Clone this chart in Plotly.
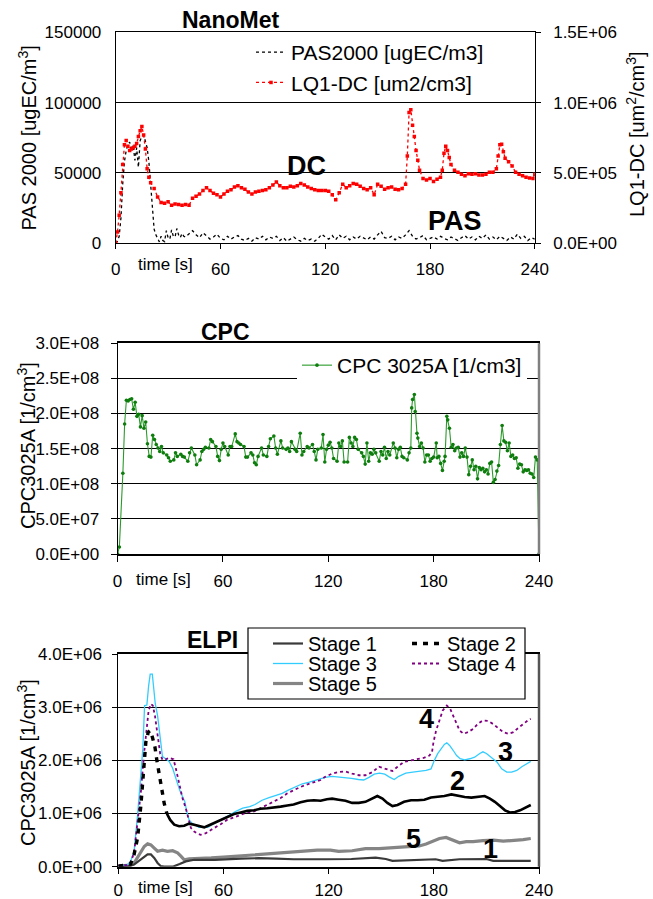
import plotly.graph_objects as go

W, H = 653, 899
FONT = "Liberation Sans, Arial, sans-serif"

# ---------------- data ----------------
time_ticks = [0, 60, 120, 180, 240]
time_tick_text = ["0", "60", "120", "180", "240"]
pas_ticks = [0, 50000, 100000, 150000]
pas_tick_text = ["0", "50000", "100000", "150000"]
dc_ticks = [0, 5e5, 1e6, 1.5e6]
dc_tick_text = ["0.0E+00", "5.0E+05", "1.0E+06", "1.5E+06"]
cpc_ticks = [0, 5e7, 1e8, 1.5e8, 2e8, 2.5e8, 3e8]
cpc_tick_text = ["0.0E+00", "5.0E+07", "1.0E+08", "1.5E+08", "2.0E+08", "2.5E+08", "3.0E+08"]
elpi_ticks = [0, 1e6, 2e6, 3e6, 4e6]
elpi_tick_text = ["0.0E+00", "1.0E+06", "2.0E+06", "3.0E+06", "4.0E+06"]

# PAS2000 [ugEC/m3] (time s, value)
pas_points = [
    (0, 0), (1, 1500), (2, 5000), (3, 18000), (4, 42000), (5, 58000), (6, 66000), (7, 70000),
    (8, 72000), (9, 66000), (10, 70000), (11, 59000), (12, 68000), (13, 54000), (14, 73000),
    (15, 76000), (16, 77000), (17, 72000), (18, 68000), (19, 58000), (20, 42000), (21, 25000),
    (22, 10000), (23, 6000), (24, 3000), (25, 1000), (26, 5000), (27, 2000), (28, 1200), (29, 9000),
    (30, 4000), (31, 3000), (32, 9500), (33, 5000), (34, 4500), (35, 10500), (36, 6000), (37, 4000),
    (38, 7000), (39, 5000), (40, 4500),
    (42, 7000), (44, 9000), (46, 6000), (48, 4000), (50, 7500), (52, 5000), (54, 3000), (56, 4500),
    (58, 6500), (60, 3500), (62, 2500), (64, 5000), (66, 3000), (68, 4500), (70, 5500), (72, 3000),
    (74, 2000), (76, 3500), (78, 1500), (80, 4000), (82, 3000), (84, 5000), (86, 2500), (88, 4500),
    (90, 3500), (92, 5000), (94, 2000), (96, 4000), (98, 1500), (100, 3000), (102, 4500), (104, 2500),
    (106, 1500), (108, 3500), (110, 2000), (112, 3000), (114, 1500), (116, 3500), (118, 6500),
    (120, 4500), (122, 3000), (124, 5500), (126, 2500), (128, 6000), (130, 3500), (132, 5000),
    (134, 2500), (136, 4500), (138, 3000), (140, 5000), (142, 3500), (144, 2500), (146, 4500),
    (148, 3000), (150, 6000), (152, 8500), (154, 4000), (156, 3500), (158, 5000), (160, 2500),
    (162, 4500), (164, 3500), (166, 6000), (168, 9000), (170, 5000), (172, 3000), (174, 4000),
    (176, 5500), (178, 2500), (180, 3500), (182, 4500), (184, 3000), (186, 5000), (188, 3500),
    (190, 2500), (192, 4500), (194, 3500), (196, 2000), (198, 4000), (200, 5500), (202, 3000),
    (204, 4500), (206, 2500), (208, 5000), (210, 3500), (212, 6000), (214, 3000), (216, 4500),
    (218, 2500), (220, 5000), (222, 3500), (224, 2000), (226, 4500), (228, 3000), (230, 6500),
    (232, 3500), (234, 5000), (236, 2000), (238, 4000), (240, 3000),
]

# LQ1-DC [um2/cm3] (time s, value)
dc_points = [
    (0, 0), (1, 80000), (2, 200000), (3, 360000), (4, 560000), (5, 700000), (6, 730000),
    (7, 690000), (8, 660000), (9, 670000), (10, 680000), (11, 690000), (12, 710000), (13, 760000),
    (14, 800000), (15, 830000), (16, 770000), (17, 670000), (18, 530000), (19, 470000), (20, 430000),
    (22, 390000), (24, 330000), (26, 290000), (28, 285000), (30, 295000), (32, 270000), (34, 280000),
    (36, 275000), (38, 270000), (40, 275000), (42, 270000), (44, 320000), (46, 335000), (48, 350000),
    (50, 375000), (52, 395000), (54, 375000), (56, 355000), (58, 345000), (60, 330000), (62, 350000),
    (64, 370000), (66, 380000), (68, 400000), (70, 410000), (72, 395000), (74, 385000), (76, 365000),
    (78, 350000), (80, 365000), (82, 370000), (84, 375000), (86, 380000), (88, 395000), (90, 415000),
    (92, 435000), (94, 410000), (96, 395000), (98, 395000), (100, 405000), (102, 400000),
    (104, 410000), (106, 425000), (108, 415000), (110, 400000), (112, 390000), (114, 380000),
    (116, 375000), (118, 375000), (120, 375000), (122, 370000), (124, 345000), (126, 310000),
    (128, 360000), (130, 420000), (132, 395000), (134, 410000), (136, 425000), (138, 420000),
    (140, 405000), (142, 390000), (144, 380000), (146, 395000), (148, 345000), (150, 420000),
    (152, 405000), (154, 385000), (156, 395000), (158, 400000), (160, 385000), (162, 380000),
    (164, 390000), (166, 420000), (167, 620000), (168, 930000), (169, 950000), (170, 840000),
    (171, 760000), (172, 660000), (173, 590000), (174, 520000), (176, 460000), (178, 450000),
    (180, 460000), (182, 440000), (184, 455000), (186, 470000), (187, 520000), (188, 640000),
    (189, 690000), (190, 660000), (191, 610000), (192, 560000), (194, 520000), (196, 505000),
    (198, 490000), (200, 480000), (202, 495000), (204, 490000), (206, 495000), (208, 485000),
    (210, 485000), (212, 490000), (214, 505000), (216, 505000), (218, 530000), (219, 620000),
    (220, 700000), (221, 705000), (222, 650000), (223, 605000), (225, 580000), (227, 550000),
    (229, 505000), (231, 490000), (233, 480000), (235, 470000), (237, 465000), (239, 460000),
    (240, 490000),
]

# CPC 3025A [1/cm3] (time s, value)
cpc_points = [
    (0, 0), (1, 1.0e7), (3, 1.15e8), (4, 1.85e8), (5, 2.19e8), (6, 2.18e8), (7, 2.20e8), (8, 2.21e8),
    (9, 2.06e8), (10, 2.16e8), (11, 1.96e8), (12, 1.99e8), (13, 1.81e8), (14, 1.97e8), (15, 1.79e8),
    (16, 1.88e8), (17, 1.57e8), (18, 1.39e8), (19, 1.38e8), (20, 1.69e8), (21, 1.63e8), (22, 1.56e8),
    (23, 1.51e8), (24, 1.46e8), (25, 1.53e8), (26, 1.44e8), (28, 1.41e8), (29, 1.37e8), (30, 1.32e8),
    (32, 1.34e8), (33, 1.44e8), (34, 1.39e8), (36, 1.42e8), (37, 1.39e8), (38, 1.38e8), (40, 1.32e8),
    (41, 1.44e8), (42, 1.51e8), (44, 1.41e8), (45, 1.27e8), (47, 1.34e8), (48, 1.46e8), (49, 1.49e8),
    (50, 1.52e8), (52, 1.51e8), (53, 1.63e8), (54, 1.60e8), (56, 1.53e8), (57, 1.39e8), (58, 1.33e8),
    (59, 1.49e8), (60, 1.58e8), (61, 1.53e8), (63, 1.41e8), (64, 1.53e8), (65, 1.53e8), (67, 1.71e8),
    (68, 1.60e8), (69, 1.58e8), (70, 1.56e8), (72, 1.53e8), (73, 1.38e8), (74, 1.38e8), (76, 1.44e8),
    (77, 1.41e8), (78, 1.30e8), (79, 1.27e8), (80, 1.39e8), (82, 1.51e8), (83, 1.41e8), (85, 1.39e8),
    (86, 1.53e8), (87, 1.64e8), (89, 1.68e8), (90, 1.51e8), (91, 1.42e8), (93, 1.61e8), (94, 1.51e8),
    (96, 1.49e8), (97, 1.51e8), (98, 1.46e8), (99, 1.60e8), (101, 1.49e8), (102, 1.46e8),
    (104, 1.72e8), (105, 1.41e8), (106, 1.46e8), (108, 1.53e8), (109, 1.51e8), (111, 1.56e8),
    (112, 1.46e8), (113, 1.34e8), (114, 1.49e8), (116, 1.51e8), (117, 1.70e8), (118, 1.31e8),
    (119, 1.49e8), (120, 1.55e8), (121, 1.59e8), (122, 1.51e8), (123, 1.36e8), (125, 1.32e8),
    (126, 1.58e8), (127, 1.53e8), (128, 1.61e8), (129, 1.31e8), (131, 1.31e8), (132, 1.66e8),
    (133, 1.58e8), (134, 1.53e8), (135, 1.66e8), (136, 1.63e8), (137, 1.49e8), (139, 1.44e8),
    (140, 1.39e8), (141, 1.28e8), (142, 1.58e8), (143, 1.32e8), (144, 1.44e8), (145, 1.42e8),
    (146, 1.49e8), (147, 1.44e8), (149, 1.32e8), (150, 1.46e8), (151, 1.41e8), (152, 1.52e8),
    (153, 1.36e8), (154, 1.46e8), (155, 1.41e8), (157, 1.58e8), (158, 1.51e8), (159, 1.37e8),
    (160, 1.49e8), (161, 1.52e8), (162, 1.39e8), (163, 1.37e8), (165, 1.34e8), (166, 1.44e8),
    (167, 1.51e8), (167.5, 2.08e8), (168, 2.20e8), (169, 2.27e8), (169.5, 2.03e8), (170.5, 1.72e8),
    (171, 1.65e8), (172, 1.53e8), (173, 1.58e8), (174, 1.51e8), (175, 1.31e8), (176, 1.41e8),
    (177, 1.41e8), (178, 1.32e8), (179, 1.36e8), (180, 1.38e8), (181.5, 1.58e8), (182, 1.37e8),
    (183, 1.39e8), (184, 1.29e8), (185, 1.19e8), (186, 1.32e8), (186.5, 1.39e8), (187.5, 1.96e8),
    (188, 1.91e8), (189, 1.79e8), (190, 1.52e8), (191, 1.56e8), (192, 1.47e8), (193, 1.51e8),
    (194, 1.52e8), (195, 1.38e8), (196, 1.44e8), (197, 1.39e8), (198, 1.51e8), (199, 1.38e8),
    (200, 1.13e8), (201, 1.25e8), (202, 1.34e8), (203, 1.20e8), (204, 1.25e8), (205, 1.07e8),
    (206, 1.23e8), (207, 1.20e8), (208, 1.22e8), (209, 1.17e8), (210, 1.20e8), (211, 1.14e8),
    (212, 1.29e8), (213, 1.31e8), (214, 1.02e8), (215, 1.06e8), (216, 1.18e8), (217, 1.26e8),
    (218, 1.56e8), (219, 1.83e8), (220, 1.61e8), (221, 1.59e8), (222, 1.47e8), (223, 1.58e8),
    (224, 1.39e8), (225, 1.41e8), (226, 1.36e8), (227, 1.37e8), (228, 1.22e8), (229, 1.28e8),
    (230, 1.27e8), (231, 1.17e8), (232, 1.20e8), (233, 1.19e8), (234, 1.20e8), (235, 1.15e8),
    (236, 1.14e8), (237, 1.09e8), (238, 1.38e8), (239, 1.34e8), (240, 0),
]

# ELPI stages [1/cm3] (time s, value)
stage1_points = [
    (0, 1e4), (7, 2e4), (9, 4e4), (12.9, 1.3e5), (16.7, 2.3e5), (18.6, 2.3e5), (20.5, 1.65e5),
    (22.4, 7e4), (24.3, 1e4), (26, 0), (31, 0), (35, 5e4), (38.5, 1.0e5), (43.3, 1.3e5),
    (55, 1.3e5), (70, 1.5e5), (80, 1.6e5), (90, 1.5e5), (100, 1.4e5), (118, 1.4e5), (133, 1.45e5),
    (146.8, 1.7e5), (152.6, 1.45e5), (156.4, 1.1e5), (166, 1.25e5), (181, 1.4e5), (185, 1.1e5),
    (194.7, 1.4e5), (210, 1.45e5), (213.9, 1.1e5), (235.3, 1.1e5),
]
stage2_points = [
    (0, 1e4), (7, 5e4), (9, 2.3e5), (11, 5.4e5), (12.9, 1.16e6), (14.4, 1.91e6), (15.7, 2.34e6),
    (17.1, 2.53e6), (18.2, 2.56e6), (19.5, 2.43e6), (20.9, 2.25e6), (22, 2.0e6), (23.3, 1.72e6),
    (24.7, 1.44e6), (26.2, 1.19e6), (27.7, 1.0e6), (29.6, 8.8e5), (31.9, 7.9e5), (34.7, 7.6e5),
    (37.6, 7.7e5), (40.4, 8.1e5), (43.3, 7.9e5), (46, 7.6e5), (49, 7.4e5), (51.8, 7.8e5),
    (54.6, 8.2e5), (57.5, 8.6e5), (60.3, 9.1e5), (63.2, 9.4e5), (66, 9.9e5), (69.8, 1.02e6),
    (73.6, 1.05e6), (77.4, 1.06e6), (81, 1.09e6), (85, 1.10e6), (88.8, 1.11e6), (92.6, 1.13e6),
    (96.4, 1.15e6), (100, 1.17e6), (104, 1.21e6), (107.8, 1.24e6), (111.6, 1.25e6), (115.4, 1.24e6),
    (119, 1.27e6), (122, 1.28e6), (125.7, 1.26e6), (129.6, 1.24e6), (133.4, 1.20e6), (137.2, 1.20e6),
    (141, 1.22e6), (145, 1.28e6), (147.8, 1.33e6), (150.7, 1.28e6), (153.5, 1.20e6), (156.4, 1.14e6),
    (159.3, 1.16e6), (163, 1.22e6), (167, 1.25e6), (170.8, 1.25e6), (174.6, 1.26e6), (178.4, 1.30e6),
    (182.3, 1.31e6), (186, 1.33e6), (190, 1.36e6), (193.8, 1.33e6), (197.6, 1.31e6), (201.4, 1.30e6),
    (205.2, 1.31e6), (209, 1.33e6), (212, 1.28e6), (214.8, 1.22e6), (217.7, 1.14e6), (220.6, 1.06e6),
    (223.4, 1.02e6), (226.3, 1.03e6), (229.2, 1.06e6), (232, 1.11e6), (235.3, 1.16e6),
]
stage3_points = [
    (0, 2e4), (5, 3e4), (7, 1.0e5), (9, 2.9e5), (11, 9.7e5), (13, 1.72e6), (14, 2.22e6), (15, 3.03e6),
    (16.3, 3.04e6), (17.3, 3.40e6), (18.2, 3.62e6), (19.4, 3.62e6), (20.3, 3.34e6), (21.1, 3.06e6),
    (22.4, 2.84e6), (23.3, 2.56e6), (24.3, 2.28e6), (25.2, 2.07e6), (27, 2.03e6), (29, 1.98e6),
    (31, 1.85e6), (33, 1.63e6), (35, 1.44e6), (36.6, 1.32e6), (38, 1.22e6), (39, 1.04e6),
    (40.4, 8.8e5), (42, 8.2e5), (44, 7.8e5), (46, 7.4e5), (48, 7.4e5), (51, 7.4e5), (54, 8.0e5),
    (56.5, 8.5e5), (59.4, 9.0e5), (63, 9.6e5), (67, 1.04e6), (71, 1.10e6), (75, 1.13e6),
    (78, 1.17e6), (82, 1.25e6), (86, 1.30e6), (90, 1.34e6), (93.5, 1.38e6), (97, 1.44e6),
    (101, 1.50e6), (105, 1.56e6), (109, 1.59e6), (112.5, 1.63e6), (116, 1.66e6), (118, 1.68e6),
    (122, 1.70e6), (126, 1.69e6), (130, 1.68e6), (133, 1.66e6), (137, 1.64e6), (140, 1.63e6),
    (143, 1.68e6), (146, 1.74e6), (149, 1.76e6), (152, 1.74e6), (154.5, 1.69e6), (157.4, 1.64e6),
    (160, 1.70e6), (164, 1.76e6), (168, 1.78e6), (172, 1.79e6), (175.6, 1.81e6), (178.4, 1.84e6),
    (180.3, 2.00e6), (182.3, 2.13e6), (184.2, 2.22e6), (186, 2.30e6), (187.4, 2.33e6), (189, 2.28e6),
    (191, 2.19e6), (193, 2.09e6), (195, 2.03e6), (197.6, 2.01e6), (200.5, 2.03e6), (203.3, 2.06e6),
    (206.2, 2.13e6), (208, 2.16e6), (210, 2.13e6), (213, 2.05e6), (216, 1.97e6), (218.7, 1.84e6),
    (221.6, 1.78e6), (224.4, 1.78e6), (227.3, 1.81e6), (230.2, 1.88e6), (233, 1.94e6),
    (235.3, 1.98e6),
]
stage4_points = [
    (0, 2e4), (5, 3e4), (7, 8e4), (9, 2.6e5), (11, 8.5e5), (12.9, 1.41e6), (14.8, 2.16e6),
    (16.1, 2.62e6), (17.3, 2.94e6), (18.6, 3.06e6), (19.7, 3.03e6), (20.9, 2.84e6), (22.4, 2.43e6),
    (23.9, 2.12e6), (25.2, 2.01e6), (27, 2.02e6), (29, 2.05e6), (31.5, 2.02e6), (32.8, 1.85e6),
    (34.7, 1.54e6), (36.6, 1.29e6), (38.5, 1.10e6), (39.8, 9.1e5), (41.4, 7.3e5), (43.3, 6.6e5),
    (45.2, 6.2e5), (47, 6.0e5), (50, 6.3e5), (52.8, 6.9e5), (55.6, 7.4e5), (58.4, 8.0e5),
    (62, 8.8e5), (66, 9.3e5), (70, 9.7e5), (73.6, 1.02e6), (77.4, 1.04e6), (81, 1.10e6),
    (85, 1.16e6), (88.8, 1.22e6), (92.6, 1.29e6), (96.4, 1.38e6), (100, 1.44e6), (104, 1.50e6),
    (108, 1.55e6), (111.6, 1.59e6), (115.4, 1.63e6), (118, 1.69e6), (122, 1.75e6), (125.7, 1.78e6),
    (129.6, 1.79e6), (133.4, 1.75e6), (137.2, 1.72e6), (141, 1.72e6), (145, 1.78e6), (148.7, 1.88e6),
    (152.6, 1.84e6), (156.4, 1.80e6), (159.3, 1.88e6), (163, 1.97e6), (167, 2.00e6), (170.8, 2.03e6),
    (174.6, 2.05e6), (177.5, 2.09e6), (179, 2.16e6), (179.8, 2.34e6), (181.3, 2.56e6),
    (183.2, 2.75e6), (185.1, 2.94e6), (187.4, 3.03e6), (189.3, 2.97e6), (191, 2.84e6),
    (192.8, 2.69e6), (194.7, 2.56e6), (197, 2.50e6), (199.5, 2.53e6), (202.4, 2.59e6),
    (205.2, 2.69e6), (208, 2.75e6), (211, 2.74e6), (214, 2.68e6), (216.7, 2.61e6), (219.6, 2.53e6),
    (222.5, 2.50e6), (225.4, 2.53e6), (228.2, 2.61e6), (231, 2.69e6), (234, 2.76e6), (235.3, 2.78e6),
]
stage5_points = [
    (0, 1e4), (7, 3e4), (9, 7e4), (12, 2.3e5), (14.8, 3.8e5), (16.7, 4.3e5), (18.6, 4.1e5),
    (20.5, 3.5e5), (22.4, 2.9e5), (25.2, 3.1e5), (28, 2.9e5), (31, 3.0e5), (33.8, 2.6e5),
    (35.7, 2.0e5), (37.6, 1.3e5), (40.4, 1.5e5), (43.3, 1.5e5), (47, 1.65e5), (53, 1.65e5),
    (60, 1.8e5), (68, 2.0e5), (75.5, 2.1e5), (83, 2.3e5), (90.7, 2.6e5), (98.3, 2.7e5),
    (106, 2.9e5), (113.5, 3.1e5), (121, 3.1e5), (125.7, 2.9e5), (133.4, 3.0e5), (141, 3.4e5),
    (148.7, 3.4e5), (156.4, 3.6e5), (164, 3.75e5), (171.7, 3.9e5), (175.6, 4.25e5), (179.4, 4.7e5),
    (183.2, 5.3e5), (187, 5.5e5), (190.9, 5.0e5), (194.7, 4.5e5), (198.5, 4.7e5), (202.4, 4.7e5),
    (208, 4.9e5), (214, 5.0e5), (219.6, 4.8e5), (225.4, 4.9e5), (231, 5.1e5), (235.3, 5.3e5),
]

elpi_names = ["Stage 1", "Stage 2", "Stage 3", "Stage 4", "Stage 5"]


# ---------------- helpers ----------------
def px(x):
    return x / W


def py(y):
    return 1 - y / H


def xs(points):
    return [p[0] for p in points]


def ys(points):
    return [p[1] for p in points]


def merge(*dicts, **kw):
    out = {}
    for d in dicts:
        out.update(d)
    out.update(kw)
    return out


fig = go.Figure()

# NanoMet panel
fig.add_trace(go.Scatter(
    x=xs(pas_points), y=ys(pas_points), mode="lines", name="PAS2000 [ugEC/m3]",
    line=dict(color="black", width=1.3, dash="dot"),
    xaxis="x", yaxis="y", legend="legend", legendgroup="pas"))
fig.add_trace(go.Scatter(
    x=xs(dc_points), y=ys(dc_points), mode="lines+markers", name="LQ1-DC [um2/cm3]",
    line=dict(color="#ff0000", width=1.3, dash="dot"),
    marker=dict(color="#ff0000", size=3.5, symbol="square"),
    xaxis="x", yaxis="y2", legend="legend", legendgroup="dc"))

# CPC panel
fig.add_trace(go.Scatter(
    x=xs(cpc_points), y=ys(cpc_points), mode="lines+markers", name="CPC 3025A [1/cm3]",
    line=dict(color="#2a9a2a", width=1.1),
    marker=dict(color="#0e7d0e", size=3.6),
    xaxis="x2", yaxis="y3", legend="legend2"))

# ELPI panel
elpi_styles = {
    "Stage 1": dict(color="#3a3a3a", width=2.2),
    "Stage 2": dict(color="black", width=3.4, dash="5px,6px"),
    "Stage 3": dict(color="#33ccff", width=1.3),
    "Stage 4": dict(color="#800080", width=1.8, dash="dot"),
    "Stage 5": dict(color="#858585", width=3.2),
}
elpi_series = {
    "Stage 1": stage1_points, "Stage 2": stage2_points, "Stage 3": stage3_points,
    "Stage 4": stage4_points, "Stage 5": stage5_points,
}
# one single-entry legend per stage so the rows can sit as tightly as in the reference
elpi_legend = {"Stage 1": "legend3", "Stage 2": "legend4", "Stage 3": "legend5",
               "Stage 4": "legend6", "Stage 5": "legend7"}
STAGE2_DASH_END = 28  # dense later samples of Stage 2 render as a solid jagged line
for name in ["Stage 5", "Stage 1", "Stage 3", "Stage 4", "Stage 2"]:
    pts = elpi_series[name]
    if name == "Stage 2":
        early = [p for p in pts if p[0] <= STAGE2_DASH_END]
        late = [p for p in pts if p[0] >= 27.7]
        fig.add_trace(go.Scatter(
            x=xs(late), y=ys(late), mode="lines", name=name, showlegend=False,
            line=dict(color="black", width=2.6), xaxis="x3", yaxis="y4",
            legend=elpi_legend[name], legendgroup="stage2"))
        fig.add_trace(go.Scatter(
            x=xs(early), y=ys(early), mode="lines", name=name, line=elpi_styles[name],
            xaxis="x3", yaxis="y4", legend=elpi_legend[name], legendgroup="stage2"))
    else:
        fig.add_trace(go.Scatter(
            x=xs(pts), y=ys(pts), mode="lines", name=name, line=elpi_styles[name],
            xaxis="x3", yaxis="y4", legend=elpi_legend[name]))

tickfont = dict(family=FONT, size=17, color="black")
base_axis = dict(showline=True, linecolor="black", linewidth=1, zeroline=False,
                 tickfont=tickfont, automargin=False, fixedrange=True)

x_common = merge(base_axis, range=[0, 240], tickmode="array", tickvals=time_ticks,
                 ticktext=time_tick_text, ticks="outside", ticklen=6, tickcolor="black",
                 showgrid=False, mirror=True, ticklabelstandoff=5)
y_grid = dict(showgrid=True, gridcolor="black", gridwidth=1, mirror=True)

dom_x_top = [px(115.7), px(534.8)]
dom_x_mid = [px(117.6), px(539.0)]
dom_x_bot = [px(118.3), px(539.0)]
dom_y_top = [py(243.3), py(32.3)]
dom_y_mid = [py(554.0), py(343.3)]
dom_y_bot = [py(866.7), py(654.0)]

LEG_FONT = dict(family=FONT, size=21, color="black")
ELPI_LEG_FONT = dict(family=FONT, size=20, color="black")


def small_legend(x, top):
    return dict(x=px(x), y=py(top), xanchor="left", yanchor="top", bgcolor="rgba(0,0,0,0)",
                borderwidth=0, font=ELPI_LEG_FONT)


fig.update_layout(
    width=W, height=H,
    margin=dict(l=0, r=0, t=0, b=0, pad=0),
    paper_bgcolor="white", plot_bgcolor="white",
    font=dict(family=FONT, color="black"),
    showlegend=True,
    xaxis=merge(x_common, domain=dom_x_top, anchor="y", ticklen=5),
    yaxis=merge(base_axis, y_grid, domain=dom_y_top, anchor="x", range=[0, 150000],
                tickmode="array", tickvals=pas_ticks, ticktext=pas_tick_text, ticks="",
                ticklabelstandoff=10),
    yaxis2=merge(base_axis, overlaying="y", side="right", anchor="x", range=[0, 1.5e6],
                 tickmode="array", tickvals=dc_ticks, ticktext=dc_tick_text, ticks="outside",
                 ticklen=5, tickcolor="black", showgrid=False, ticklabelstandoff=9),
    xaxis2=merge(x_common, domain=dom_x_mid, anchor="y3", linewidth=1.5),
    yaxis3=merge(base_axis, y_grid, domain=dom_y_mid, anchor="x2", range=[0, 3e8],
                 tickmode="array", tickvals=cpc_ticks, ticktext=cpc_tick_text, ticks="outside",
                 ticklen=6, tickcolor="black", ticklabelstandoff=8),
    xaxis3=merge(x_common, domain=dom_x_bot, anchor="y4", linewidth=1.5, ticklabelstandoff=1),
    yaxis4=merge(base_axis, y_grid, domain=dom_y_bot, anchor="x3", range=[0, 4e6],
                 tickmode="array", tickvals=elpi_ticks, ticktext=elpi_tick_text, ticks="outside",
                 ticklen=5, tickcolor="black", ticklabelstandoff=7),
    legend=dict(x=px(251), y=py(32), xanchor="left", yanchor="top", bgcolor="rgba(0,0,0,0)",
                borderwidth=0, font=LEG_FONT, tracegroupgap=2, traceorder="normal"),
    legend2=dict(x=px(297), y=py(345), xanchor="left", yanchor="top", bgcolor="white",
                 borderwidth=0, font=LEG_FONT),
    legend3=small_legend(268, 624),
    legend4=small_legend(407, 624),
    legend5=small_legend(268, 644),
    legend6=small_legend(407, 644),
    legend7=small_legend(268, 664),
)

# panel borders & ELPI legend box
shapes = [
    dict(type="line", xref="x2 domain", yref="y3 domain", x0=1, x1=1, y0=0, y1=1,
         line=dict(color="#808080", width=2.5), layer="above"),
    dict(type="line", xref="x3 domain", yref="y4 domain", x0=1, x1=1, y0=0, y1=1,
         line=dict(color="#555555", width=2.5), layer="above"),
    dict(type="rect", xref="paper", yref="paper", x0=px(248), x1=px(525), y0=py(699), y1=py(628),
         fillcolor="white", line=dict(color="black", width=1.2), layer="above"),
]
fig.update_layout(shapes=shapes)


def ann(text, x, y, size, bold=False, angle=0):
    return dict(text=f"<b>{text}</b>" if bold else text, x=px(x), y=py(y), xref="paper",
                yref="paper", xanchor="center", yanchor="middle", showarrow=False,
                textangle=angle, font=dict(family=FONT, size=size, color="black"))


annotations = [
    ann("NanoMet", 230, 19.5, 23, bold=True),
    ann("CPC", 225, 331.5, 23, bold=True),
    ann("ELPI", 212, 640, 23, bold=True),
    ann("PAS 2000 [ugEC/m<sup>3</sup>]", 27.5, 138, 20, angle=-90),
    ann("LQ1-DC [um<sup>2</sup>/cm<sup>3</sup>]", 635, 134, 20, angle=-90),
    ann("CPC3025A [1/cm<sup>3</sup>]", 26, 446, 20, angle=-90),
    ann("CPC3025A [1/cm<sup>3</sup>]", 26, 763, 20, angle=-90),
    ann("time [s]", 165, 265, 17),
    ann("time [s]", 163, 579, 17),
    ann("time [s]", 165, 887, 17),
    ann("DC", 306, 166, 27, bold=True),
    ann("PAS", 455, 221, 27, bold=True),
    ann("4", 426, 719, 27, bold=True),
    ann("3", 505, 752, 27, bold=True),
    ann("2", 458, 781, 27, bold=True),
    ann("5", 413, 839, 27, bold=True),
    ann("1", 490, 849, 27, bold=True),
]
fig.update_layout(annotations=annotations)

# the page's default 8 px body margin would shift the whole figure; remove it
fig.write_html("out.html", config={"displayModeBar": False},
               post_script="document.body.style.margin='0px';document.body.style.overflow='hidden';")
